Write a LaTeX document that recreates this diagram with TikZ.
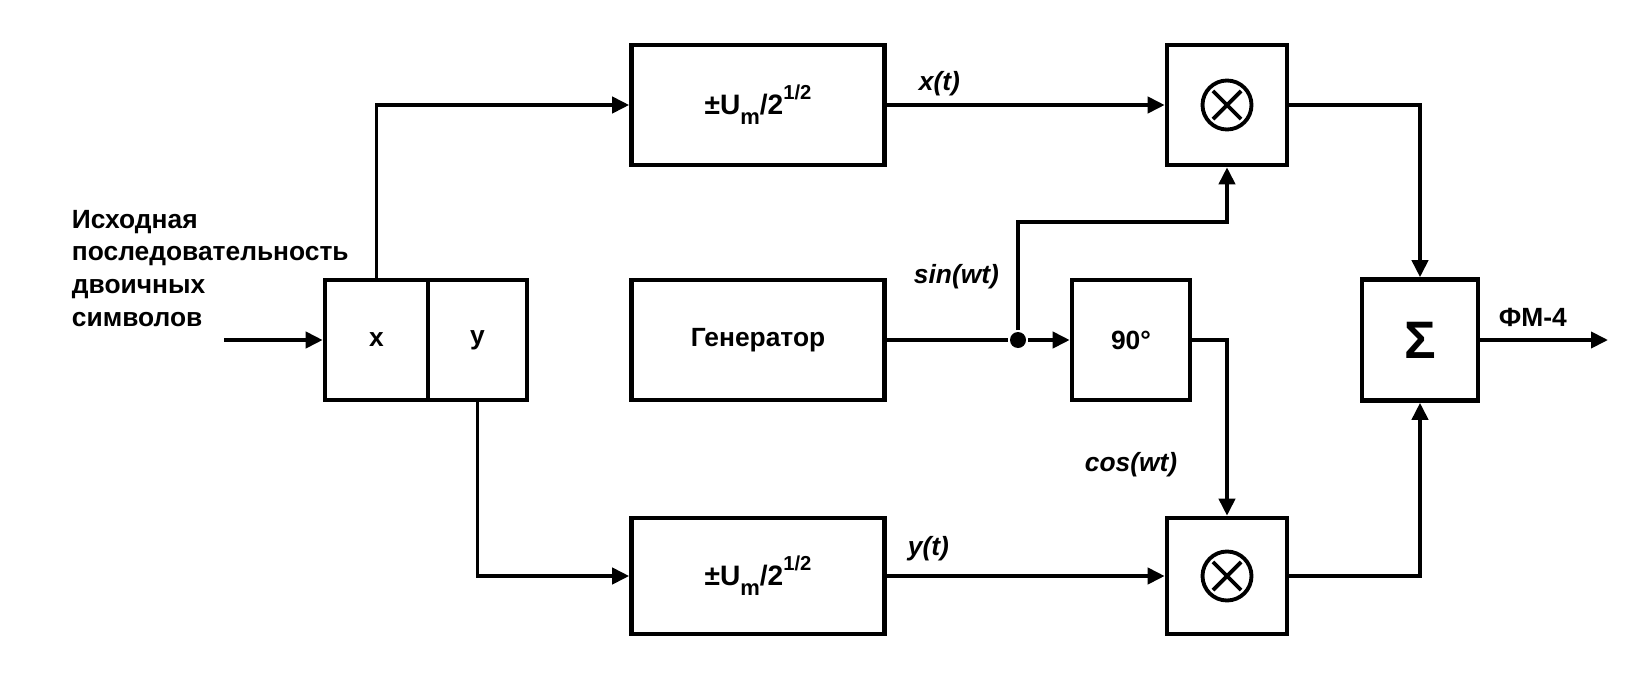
\documentclass[tikz,border=0pt]{standalone}
\usepackage{fontspec}
\setmainfont{Liberation Sans}
\usetikzlibrary{arrows.meta,positioning}
\newcommand{\ampl}{±U\raisebox{-0.38em}{\fontsize{12.5}{12.5}\selectfont m}/2\raisebox{0.5em}{\fontsize{11.5}{11.5}\selectfont 1/2}}
\tikzset
{
    block/.style = {rectangle, draw=black, line width=2.6pt, align=center, minimum width=5.06cm, minimum height=2.4cm, inner sep=0pt},
    sqbox/.style = {rectangle, draw=black, line width=2.6pt, align=center, minimum width=2.4cm, minimum height=2.4cm, inner sep=0pt},
    msign/.style = {circle, draw=black, line width=2.2pt, minimum size=0.98cm, inner sep=0pt},
    xline/.style = {line width=2.2pt, shorten >=0.13cm, shorten <=0.13cm},
    sig/.style   = {font=\fontsize{15}{18}\selectfont\bfseries\itshape, inner sep=0pt, anchor=base west},
    junct/.style = {circle, fill=black, minimum size=0.32cm, inner sep=0pt}
}
\begin{document}
\begin{tikzpicture}[>={Triangle[length=0.34cm,width=0.32cm]}, line width=2.2pt, font=\fontsize{15}{18.6}\selectfont\bfseries]
\useasboundingbox (0,0) rectangle (32.82,-13.48);
\node [anchor=north west, align=left, inner sep=0pt] at (1.40,-4.16) (src) {Исходная\\последовательность\\двоичных\\символов};
\node [sqbox, minimum width=2.06cm] at (7.53,-6.80) (xc) {x};
\node [sqbox, minimum width=1.98cm] at (9.55,-6.80) (yc) {y};
\node [block, font=\fontsize{16}{18}\selectfont\bfseries] at (15.16,-2.10) (amp1) {\ampl};
\node [block] at (15.16,-6.80) (gen) {Генератор};
\node [block, minimum height=2.32cm, font=\fontsize{16}{18}\selectfont\bfseries] at (15.16,-11.52) (amp2) {\ampl};
\node [sqbox, minimum width=2.36cm] at (22.62,-6.80) (ph) {90°};
\node [sqbox] at (24.54,-2.10) (mul1) {};
\node [sqbox, minimum height=2.32cm] at (24.54,-11.52) (mul2) {};
\node [sqbox, minimum width=2.32cm, minimum height=2.42cm] at (28.40,-6.80) (sum) {\fontsize{30}{32}\selectfont Σ};
\node [msign] at (mul1) (m1s) {};
\node [msign] at (mul2) (m2s) {};
\draw [xline] (m1s.45) -- (m1s.225);
\draw [xline] (m1s.135) -- (m1s.315);
\draw [xline] (m2s.45) -- (m2s.225);
\draw [xline] (m2s.135) -- (m2s.315);
\node [junct] at (20.36,-6.80) (dot) {};
\coordinate (br) at (20.36,-4.44);
\coordinate (in) at (4.48,-6.80);
\coordinate (out) at (32.16,-6.80);
\node [sig] at (18.34,-1.80) (lx) {x(t)};
\node [sig] at (18.12,-11.10) (ly) {y(t)};
\node [sig] at (18.24,-5.66) (ls) {sin(wt)};
\node [sig] at (21.66,-9.42) (lc) {cos(wt)};
\node [inner sep=0pt, anchor=base west] at (29.94,-6.52) (lf) {ФМ-4};
\draw [->] (in) -- (xc.west);
\draw [->] (xc.north) |- (amp1.west);
\draw [->] (yc.south) |- (amp2.west);
\draw [->] (amp1.east) -- (mul1.west);
\draw [->] (amp2.east) -- (mul2.west);
\draw (gen.east) -- (dot);
\draw [->] (dot) -- (ph.west);
\draw [->] (dot) -- (br) -| (mul1.south);
\draw [->] (ph.east) -| (mul2.north);
\draw [->] (mul1.east) -| (sum.north);
\draw [->] (mul2.east) -| (sum.south);
\draw [->] (sum.east) -- (out);
\end{tikzpicture}
\end{document}
